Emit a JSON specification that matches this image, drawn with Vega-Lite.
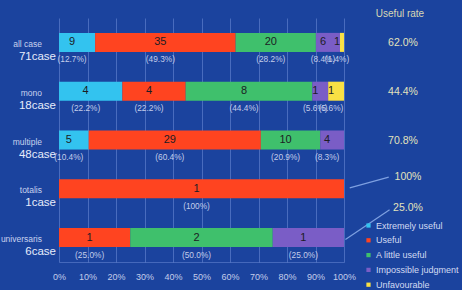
{
  "$schema": "https://vega.github.io/schema/vega-lite/v6.json",
  "width": 285,
  "height": 244,
  "autosize": {"type": "none"},
  "padding": {"left": 59, "top": 18, "right": 118, "bottom": 28},
  "background": "#1b439e",
  "config": {
    "font": "Liberation Sans",
    "view": {"stroke": null},
    "axis": {"labelFont": "Liberation Sans"},
    "axisX": {
      "grid": true,
      "gridColor": "#6f8ed8",
      "gridOpacity": 0.55,
      "gridWidth": 1,
      "domain": true,
      "domainColor": "#6f8ed8",
      "domainOpacity": 0.5,
      "ticks": false,
      "labelPadding": 10,
      "labelOverlap": false,
      "labelFlush": false,
      "labelColor": "#c3cdea",
      "labelFontSize": 9,
      "title": null
    },
    "legend": {"labelFont": "Liberation Sans"}
  },
  "datasets": {
    "segs": [
      {"row": "all case", "k": 0, "cat": "Extremely useful", "n": 9, "p": "(12.7%)"},
      {"row": "all case", "k": 1, "cat": "Useful", "n": 35, "p": "(49.3%)"},
      {"row": "all case", "k": 2, "cat": "A little useful", "n": 20, "p": "(28.2%)"},
      {"row": "all case", "k": 3, "cat": "Impossible judgment", "n": 6, "p": "(8.4%)"},
      {"row": "all case", "k": 4, "cat": "Unfavourable", "n": 1, "p": "(1.4%)"},
      {"row": "mono", "k": 0, "cat": "Extremely useful", "n": 4, "p": "(22.2%)"},
      {"row": "mono", "k": 1, "cat": "Useful", "n": 4, "p": "(22.2%)"},
      {"row": "mono", "k": 2, "cat": "A little useful", "n": 8, "p": "(44.4%)"},
      {"row": "mono", "k": 3, "cat": "Impossible judgment", "n": 1, "p": "(5.6%)"},
      {"row": "mono", "k": 4, "cat": "Unfavourable", "n": 1, "p": "(5.6%)"},
      {"row": "multiple", "k": 0, "cat": "Extremely useful", "n": 5, "p": "(10.4%)"},
      {"row": "multiple", "k": 1, "cat": "Useful", "n": 29, "p": "(60.4%)"},
      {"row": "multiple", "k": 2, "cat": "A little useful", "n": 10, "p": "(20.9%)"},
      {"row": "multiple", "k": 3, "cat": "Impossible judgment", "n": 4, "p": "(8.3%)"},
      {"row": "totalis", "k": 1, "cat": "Useful", "n": 1, "p": "(100%)"},
      {"row": "universaris", "k": 1, "cat": "Useful", "n": 1, "p": "(25.0%)"},
      {"row": "universaris", "k": 2, "cat": "A little useful", "n": 2, "p": "(50.0%)"},
      {"row": "universaris", "k": 3, "cat": "Impossible judgment", "n": 1, "p": "(25.0%)"}
    ],
    "rows": [
      {"row": "all case", "name": "all case", "cases": "71case", "rate": "62.0%"},
      {"row": "mono", "name": "mono", "cases": "18case", "rate": "44.4%"},
      {"row": "multiple", "name": "multiple", "cases": "48case", "rate": "70.8%"},
      {"row": "totalis", "name": "totalis", "cases": "1case", "rate": "100%"},
      {"row": "universaris", "name": "universaris", "cases": "6case", "rate": "25.0%"}
    ],
    "header": [{"row": "all case", "t": "Useful rate"}],
    "leaders": [
      {"a": 1.02, "a2": 1.157, "b": 3.48, "b2": 3.26},
      {"a": 1.005, "a2": 1.16, "b": 4.54, "b2": 3.93}
    ]
  },
  "resolve": {"scale": {"y": "independent"}},
  "layer": [
    {
      "layer": [
        {
          "data": {"name": "segs"},
          "mark": {"type": "bar"},
          "encoding": {
            "x": {
              "field": "n",
              "type": "quantitative",
              "stack": "normalize",
              "scale": {"domain": [0, 1], "nice": false},
              "axis": {"tickCount": 10, "format": ".0%"}
            },
            "order": {"field": "k", "type": "quantitative"},
            "color": {
              "field": "cat",
              "type": "nominal",
              "scale": {
                "domain": ["Extremely useful", "Useful", "A little useful", "Impossible judgment", "Unfavourable"],
                "range": ["#33c3ef", "#ff4420", "#3fc06c", "#7a5dc6", "#f9e044"]
              },
              "legend": {
                "title": null,
                "orient": "none",
                "legendX": 305,
                "legendY": 203,
                "symbolType": "square",
                "symbolSize": 18,
                "symbolStrokeWidth": 0,
                "labelFontSize": 9,
                "labelColor": "#d2daf2",
                "rowPadding": 4.8,
                "labelOffset": 3,
                "padding": 0
              }
            }
          }
        },
        {
          "data": {"name": "segs"},
          "mark": {"type": "text", "fontSize": 11, "color": "#1c1c24", "dx": -5, "baseline": "middle"},
          "encoding": {
            "x": {"field": "n", "type": "quantitative", "stack": "normalize", "bandPosition": 0.5, "axis": {"tickCount": 10, "format": ".0%"}},
            "order": {"field": "k", "type": "quantitative"},
            "detail": {"field": "cat"},
            "text": {"field": "n", "type": "quantitative"}
          }
        },
        {
          "data": {"name": "segs"},
          "mark": {"type": "text", "fontSize": 8.3, "color": "#c3cdea", "dx": -5, "dy": 18, "baseline": "middle"},
          "encoding": {
            "x": {"field": "n", "type": "quantitative", "stack": "normalize", "bandPosition": 0.5, "axis": {"tickCount": 10, "format": ".0%"}},
            "order": {"field": "k", "type": "quantitative"},
            "detail": {"field": "cat"},
            "text": {"field": "p", "type": "nominal"}
          }
        },
        {
          "data": {"name": "rows"},
          "mark": {"type": "text", "fontSize": 8.5, "color": "#c8d2ee", "align": "right", "baseline": "middle", "dx": -17, "dy": 1.5},
          "encoding": {
            "x": {"datum": 0, "type": "quantitative", "axis": {"tickCount": 10, "format": ".0%"}},
            "text": {"field": "name", "type": "nominal"}
          }
        },
        {
          "data": {"name": "rows"},
          "mark": {"type": "text", "fontSize": 11.5, "color": "#e6ecfb", "align": "right", "baseline": "middle", "dx": -3, "dy": 14.5},
          "encoding": {
            "x": {"datum": 0, "type": "quantitative", "axis": {"tickCount": 10, "format": ".0%"}},
            "text": {"field": "cases", "type": "nominal"}
          }
        },
        {
          "data": {"name": "rows"},
          "transform": [{"filter": "datum.row == 'all case' || datum.row == 'mono' || datum.row == 'multiple'"}],
          "mark": {"type": "text", "fontSize": 10.5, "color": "#e2e2bc", "align": "center", "baseline": "middle", "dx": 59, "dy": 0.5},
          "encoding": {
            "x": {"datum": 1, "type": "quantitative", "axis": {"tickCount": 10, "format": ".0%"}},
            "text": {"field": "rate", "type": "nominal"}
          }
        },
        {
          "data": {"name": "rows"},
          "transform": [{"filter": "datum.row == 'totalis'"}],
          "mark": {"type": "text", "fontSize": 10.5, "color": "#e2e2bc", "align": "center", "baseline": "middle", "dx": 64, "dy": -12},
          "encoding": {
            "x": {"datum": 1, "type": "quantitative", "axis": {"tickCount": 10, "format": ".0%"}},
            "text": {"field": "rate", "type": "nominal"}
          }
        },
        {
          "data": {"name": "rows"},
          "transform": [{"filter": "datum.row == 'universaris'"}],
          "mark": {"type": "text", "fontSize": 10.5, "color": "#e2e2bc", "align": "center", "baseline": "middle", "dx": 64, "dy": -30},
          "encoding": {
            "x": {"datum": 1, "type": "quantitative", "axis": {"tickCount": 10, "format": ".0%"}},
            "text": {"field": "rate", "type": "nominal"}
          }
        },
        {
          "data": {"name": "header"},
          "mark": {"type": "text", "fontSize": 10, "color": "#d8d8b4", "align": "center", "baseline": "middle", "dx": 56, "dy": -28},
          "encoding": {
            "x": {"datum": 1, "type": "quantitative", "axis": {"tickCount": 10, "format": ".0%"}},
            "text": {"field": "t", "type": "nominal"}
          }
        }
      ],
      "encoding": {
        "y": {
          "field": "row",
          "type": "nominal",
          "sort": ["all case", "mono", "multiple", "totalis", "universaris"],
          "scale": {"paddingInner": 0.61, "paddingOuter": 0.305},
          "axis": null
        }
      }
    },
    {
      "data": {"name": "leaders"},
      "mark": {"type": "rule", "color": "#8fb0ec", "strokeWidth": 1.2, "opacity": 0.85},
      "encoding": {
        "x": {"field": "a", "type": "quantitative", "axis": {"tickCount": 10, "format": ".0%"}},
        "x2": {"field": "a2"},
        "y": {"field": "b", "type": "quantitative", "scale": {"domain": [0, 5], "reverse": true}, "axis": null},
        "y2": {"field": "b2"}
      }
    }
  ]
}
